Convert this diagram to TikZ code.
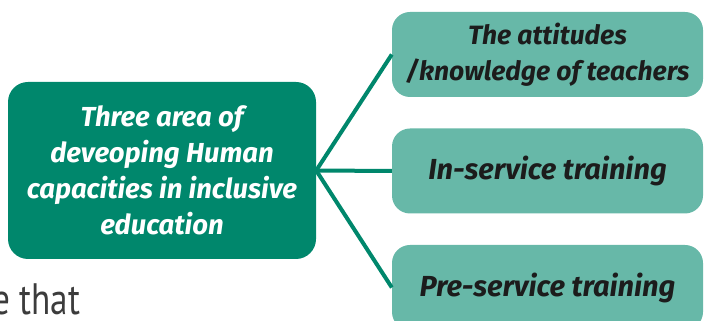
\documentclass[tikz,border=0pt]{standalone}
\usepackage{fontspec}
\setmainfont{Fira Sans}
\newfontfamily\fragfont[FakeStretch=0.8]{PT Sans}
\definecolor{darkgreen}{RGB}{0,135,108}
\definecolor{lightteal}{RGB}{103,184,168}
\definecolor{darktext}{RGB}{28,28,28}
\definecolor{pagetext}{RGB}{60,60,60}
\begin{document}
\begin{tikzpicture}[x=1pt,y=1pt,
  mainbox/.style={draw=none, fill=darkgreen, rounded corners=20pt, minimum width=308pt, minimum height=177pt, inner sep=0pt, align=center, text=white, font=\fontsize{27.5}{36}\selectfont\bfseries\itshape},
  subbox/.style={draw=none, fill=lightteal, rounded corners=18pt, minimum width=311pt, minimum height=85pt, inner sep=0pt, align=center, text=darktext, font=\fontsize{29}{36}\selectfont\bfseries\itshape},
  link/.style={draw=darkgreen, line width=4pt}]
\useasboundingbox (0,0) rectangle (705,321);
\node[mainbox] (main) at (162,150.5) {\raisebox{3pt}{\parbox{300pt}{\centering Three area of\\deveoping Human\\capacities in inclusive\\education}}};
\node[subbox, font=\fontsize{26.5}{36}\selectfont\bfseries\itshape] (att) at (547.5,266.5) {The attitudes\\/knowledge of teachers};
\node[subbox] (ins) at (547.5,150) {In-service training};
\node[subbox] (pre) at (547.5,33.5) {Pre-service training};
\draw[link] (main.east) -- (att.west);
\draw[link] (main.east) -- (ins.west);
\draw[link] (main.east) -- (pre.west);
\node[anchor=base west, inner sep=0pt, text=pagetext, font=\fragfont\fontsize{44}{50}\selectfont] (frag) at (-8,6) {e that};
\end{tikzpicture}
\end{document}
